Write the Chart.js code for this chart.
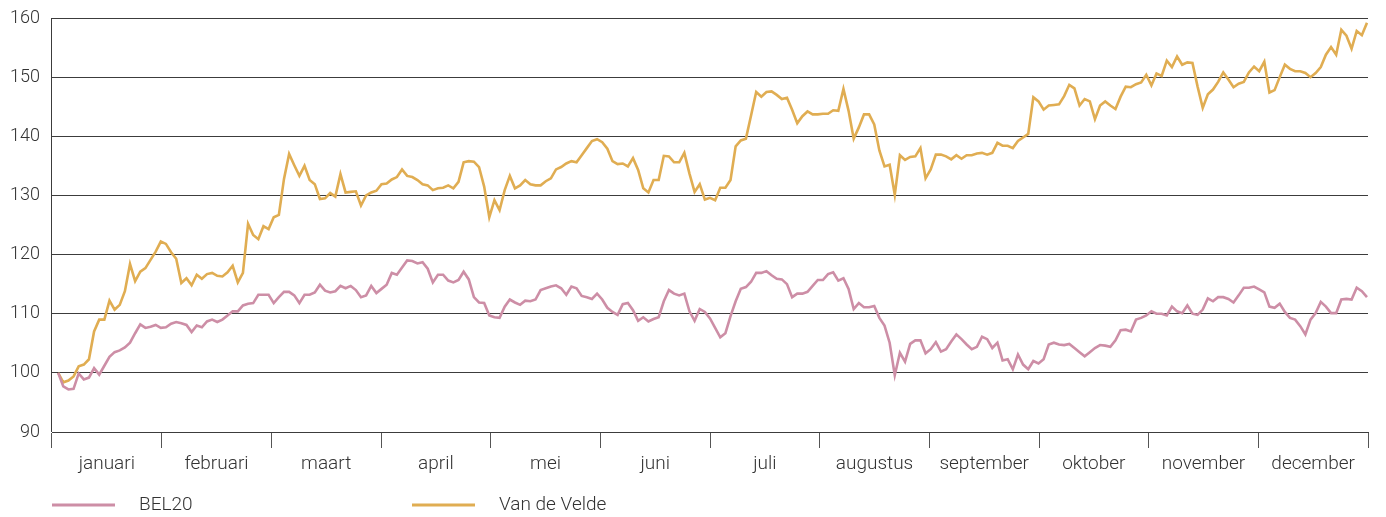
<!DOCTYPE html>
<html>
<head>
<meta charset="utf-8">
<script src="https://cdn.jsdelivr.net/npm/chart.js@4.4.1/dist/chart.umd.min.js"></script>
<style>
  html, body { margin: 0; padding: 0; background: #fff; }
  #wrap { width: 1386px; height: 517px; }
</style>
</head>
<body>
<div id="wrap"><canvas id="koers"></canvas></div>
<script>
// maanden op de x-as
const maanden = ['januari', 'februari', 'maart', 'april', 'mei', 'juni', 'juli',
    'augustus', 'september', 'oktober', 'november', 'december'];

// koers per beursdag, 100 = start van het jaar
const bel20 = [
    100.0, 97.7, 97.2, 97.3, 99.9, 98.9, 99.2, 100.8, 99.7, 101.2, 102.7, 103.5, 103.8, 104.3, 105.1, 106.7,
    108.2, 107.6, 107.8, 108.1, 107.6, 107.7, 108.3, 108.6, 108.4, 108.1, 106.9, 108.0, 107.7, 108.7, 109.0, 108.6,
    109.0, 109.7, 110.4, 110.4, 111.4, 111.7, 111.8, 113.2, 113.2, 113.2, 111.8, 112.8, 113.7, 113.7, 113.1, 111.8,
    113.2, 113.2, 113.6, 114.9, 113.9, 113.6, 113.8, 114.7, 114.3, 114.7, 114.0, 112.8, 113.1, 114.7, 113.5, 114.2,
    114.9, 116.9, 116.6, 117.8, 119.0, 118.9, 118.5, 118.7, 117.6, 115.3, 116.6, 116.6, 115.6, 115.3, 115.7, 117.1,
    115.8, 112.8, 111.9, 111.8, 109.7, 109.4, 109.3, 111.2, 112.4, 111.9, 111.5, 112.2, 112.1, 112.4, 114.0, 114.3, 114.6,
    114.8, 114.3, 113.2, 114.6, 114.3, 113.0, 112.8, 112.5, 113.4, 112.4, 111.0, 110.3, 109.8, 111.6, 111.8, 110.6,
    108.8, 109.4, 108.7, 109.1, 109.4, 112.1, 114.0, 113.4, 113.1, 113.4, 110.4, 108.8, 110.8, 110.3, 109.2, 107.6,
    106.0, 106.7, 109.6, 112.1, 114.2, 114.5, 115.4, 116.9, 116.9, 117.2, 116.5, 115.9, 115.8, 115.0, 112.8, 113.4,
    113.4, 113.7, 114.7, 115.7, 115.7, 116.7, 117.0, 115.6, 116.0, 114.2, 110.8, 111.8, 111.1, 111.1, 111.3, 109.3,
    108.0, 105.1, 99.6, 103.4, 101.9, 104.9, 105.5, 105.5, 103.3, 104.0, 105.2, 103.6, 104.0, 105.3, 106.5, 105.7,
    104.8, 104.0, 104.4, 106.1, 105.7, 104.2, 105.1, 102.1, 102.3, 100.6, 103.1, 101.4, 100.6, 102.0, 101.6, 102.3,
    104.8, 105.1, 104.8, 104.7, 104.9, 104.2, 103.5, 102.8, 103.5, 104.2, 104.7, 104.6, 104.4, 105.5, 107.2, 107.3,
    107.0, 109.0, 109.3, 109.7, 110.4, 110.0, 110.0, 109.7, 111.2, 110.4, 110.1, 111.4, 110.0, 109.8, 110.7, 112.6,
    112.1, 112.8, 112.8, 112.5, 111.9, 113.1, 114.4, 114.4, 114.6, 114.1, 113.6, 111.2, 111.0, 111.7, 110.3, 109.3,
    109.0, 107.9, 106.5, 109.0, 110.1, 112.0, 111.2, 110.1, 110.1, 112.4, 112.5, 112.4, 114.4, 113.8, 112.8
];

const vanDeVelde = [
    100.0, 98.4, 98.7, 99.4, 101.1, 101.4, 102.3, 107.0, 109.0, 109.0, 112.2, 110.7, 111.5, 113.8, 118.4, 115.5,
    117.1, 117.7, 119.1, 120.5, 122.2, 121.8, 120.4, 119.3, 115.2, 116.0, 114.8, 116.6, 115.9, 116.7, 116.9, 116.4,
    116.3, 117.0, 118.1, 115.3, 116.9, 125.2, 123.3, 122.6, 124.8, 124.3, 126.3, 126.7, 132.8, 137.0, 135.1, 133.3,
    135.0, 132.6, 131.9, 129.4, 129.5, 130.4, 129.8, 133.6, 130.5, 130.6, 130.7, 128.3, 130.0, 130.5, 130.8, 131.9,
    132.0, 132.7, 133.1, 134.4, 133.3, 133.1, 132.6, 131.9, 131.7, 130.9, 131.2, 131.3, 131.7, 131.2, 132.3, 135.6,
    135.8, 135.7, 134.8, 131.5, 126.3, 129.2, 127.5, 130.9, 133.3, 131.2, 131.7, 132.6, 131.9, 131.7, 131.7, 132.4, 132.9,
    134.4, 134.8, 135.4, 135.8, 135.6, 136.8, 138.0, 139.2, 139.5, 139.0, 137.9, 135.8, 135.3, 135.4, 134.9, 136.3,
    134.3, 131.2, 130.5, 132.6, 132.6, 136.7, 136.6, 135.6, 135.6, 137.2, 133.7, 130.6, 131.9, 129.3, 129.6, 129.2,
    131.3, 131.3, 132.6, 138.3, 139.3, 139.6, 143.5, 147.5, 146.7, 147.5, 147.6, 147.0, 146.3, 146.5, 144.5, 142.2,
    143.4, 144.2, 143.7, 143.7, 143.8, 143.8, 144.4, 144.3, 148.0, 144.3, 139.6, 141.5, 143.7, 143.7, 142.0, 137.6,
    134.9, 135.2, 130.1, 136.8, 136.0, 136.5, 136.6, 138.0, 132.9, 134.4, 136.9, 136.9, 136.6, 136.1, 136.8, 136.2,
    136.8, 136.8, 137.1, 137.2, 136.9, 137.2, 138.9, 138.4, 138.4, 138.0, 139.2, 139.8, 140.4, 146.6, 145.9, 144.5,
    145.2, 145.3, 145.4, 146.8, 148.7, 148.1, 145.2, 146.3, 145.9, 142.9, 145.2, 145.9, 145.2, 144.6, 146.7, 148.4,
    148.3, 148.8, 149.1, 150.4, 148.6, 150.6, 150.2, 152.8, 151.7, 153.5, 152.1, 152.5, 152.4, 148.4, 144.8, 147.1,
    147.9, 149.2, 150.8, 149.6, 148.3, 148.9, 149.2, 150.8, 151.8, 151.0, 152.6, 147.4, 147.8, 150.0, 152.1, 151.4,
    151.0, 151.0, 150.7, 150.0, 150.7, 151.7, 153.8, 155.1, 153.8, 158.0, 157.0, 154.8, 157.8, 157.1, 159.2
];

const yMin = 90;
const yMax = 160;
const yStap = 10;

const roze = '#cd8ea6';
const goud = '#e0ad52';
const tekstKleur = '#333333';
const lijnKleur = '#3c3c3c';
const lettertype = 'Roboto, "Open Sans", sans-serif';

// legende onderaan, zelf getekend
const legende = {
    id: 'legende',
    afterDraw(chart) {
        const ctx = chart.ctx;
        const items = [
            { tekst: 'BEL20', kleur: roze, x: 52 },
            { tekst: 'Van de Velde', kleur: goud, x: 412 }
        ];
        const y = 505;
        ctx.save();
        items.forEach(item => {
            ctx.strokeStyle = item.kleur;
            ctx.lineWidth = 3;
            ctx.beginPath();
            ctx.moveTo(item.x, y);
            ctx.lineTo(item.x + 63, y);
            ctx.stroke();
            ctx.fillStyle = tekstKleur;
            ctx.font = '300 19px ' + lettertype;
            ctx.textBaseline = 'middle';
            ctx.fillText(item.tekst, item.x + 87, y);
        });
        ctx.restore();
    }
};

const punten = reeks => reeks.map((v, i) => ({ x: i, y: v }));

new Chart(document.getElementById('koers'), {
    type: 'line',
    data: {
        datasets: [{
            label: 'BEL20',
            data: punten(bel20),
            borderColor: roze,
            borderWidth: 2.6
        }, {
            label: 'Van de Velde',
            data: punten(vanDeVelde),
            borderColor: goud,
            borderWidth: 2.6
        }]
    },
    options: {
        responsive: true,
        maintainAspectRatio: false,
        animation: false,
        pointRadius: 0,
        tension: 0,
        layout: {
            padding: { top: 18, right: 18, bottom: 40, left: 0 }
        },
        plugins: {
            legend: { display: false },
            tooltip: { enabled: false }
        },
        scales: {
            x: {
                type: 'linear',
                display: false,
                min: -1.2,
                max: bel20.length - 0.8
            },
            maand: {
                type: 'category',
                position: 'bottom',
                labels: maanden,
                offset: true,
                afterFit: scale => {
                    scale.height = 45;
                    scale.paddingLeft = 0;
                    scale.paddingRight = 0;
                },
                grid: {
                    offset: true,
                    drawOnChartArea: true,
                    color: c => (c.index === 0 || c.index === maanden.length) ? lijnKleur : 'rgba(0,0,0,0)',
                    tickColor: '#555555',
                    tickLength: 16,
                    lineWidth: 1
                },
                border: { display: true, color: lijnKleur },
                ticks: {
                    padding: 5,
                    color: tekstKleur,
                    font: { family: lettertype, size: 19, weight: 300 }
                }
            },
            y: {
                min: yMin,
                max: yMax,
                afterFit: scale => {
                    scale.width = 52;
                    scale.paddingTop = 0;
                    scale.paddingBottom = 0;
                },
                grid: {
                    color: lijnKleur,
                    lineWidth: 1,
                    drawTicks: false
                },
                border: { display: false },
                ticks: {
                    stepSize: yStap,
                    padding: 12,
                    color: tekstKleur,
                    font: { family: lettertype, size: 18, weight: 300 }
                }
            }
        }
    },
    plugins: [legende]
});
</script>
</body>
</html>
